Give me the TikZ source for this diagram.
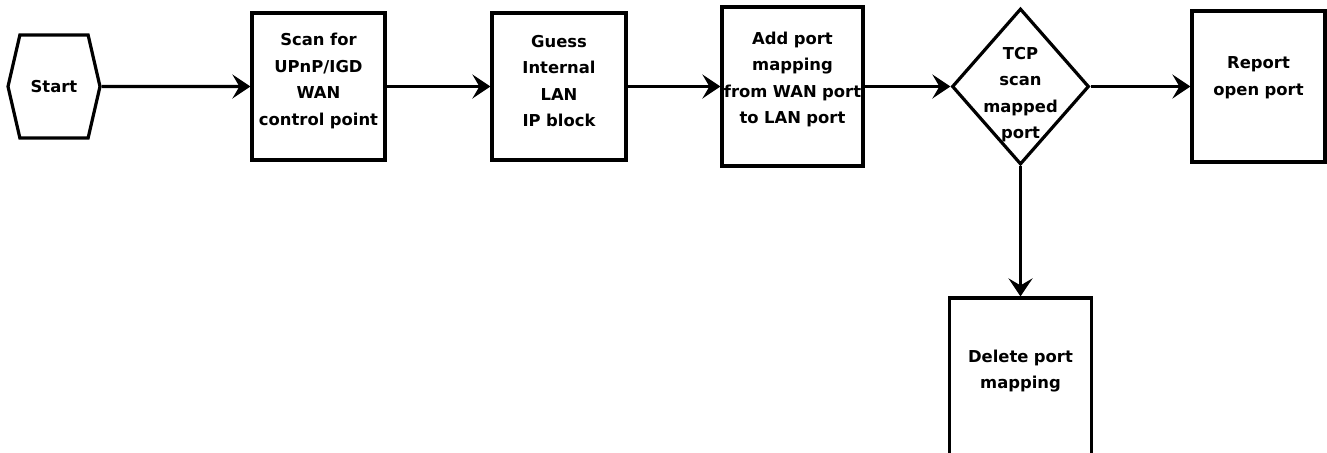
\documentclass[tikz,border=0pt]{standalone}
\usepackage{fontspec}
\setmainfont{DejaVu Sans}
\usetikzlibrary{positioning,shapes.geometric,shapes.symbols,arrows.meta}

\tikzset{
  stepbox/.style={draw, rectangle, line width=1.6pt, inner xsep=0pt, inner ysep=0pt,
    text width=64pt, align=center, minimum width=66.5pt, minimum height=73.5pt,
    execute at end node={\par\vskip #1\hrule height 0pt}},
  stepbox/.default=5.5pt,
  startbox/.style={draw, signal, signal to=west and east, signal pointer angle=154,
    line width=1.6pt, inner sep=0pt, minimum width=46pt, minimum height=51.5pt},
  testbox/.style={draw, diamond, line width=1.6pt, inner sep=0pt,
    minimum width=68.5pt, minimum height=78pt},
  flow/.style={line width=1.6pt, -{Stealth[length=9pt,width=12pt,inset=3.5pt]}}
}

\begin{document}
\begin{tikzpicture}[node distance=120pt,on grid,font=\fontsize{8.2}{13.25}\selectfont\bfseries]
   \useasboundingbox (-27pt,43.25pt) rectangle (636.5pt,-182.75pt);
   \clip (-27pt,43.25pt) rectangle (636.5pt,-182.75pt);

   \node[startbox] (start) {Start};
   \node[stepbox] (scan) [right=132.25pt of start] {Scan for\\UPnP/IGD\\WAN\\control point};
   \node[stepbox, minimum width=67pt] (guess) [right=120.25pt of scan] {Guess\\Internal\\LAN\\IP block};
   \node[stepbox=7pt, text width=70pt, minimum width=70.5pt, minimum height=79.5pt] (map) [right=116.75pt of guess] {Add port\\mapping\\from WAN port\\to LAN port};
   \node[testbox, label={[align=center,yshift=-4pt]center:{TCP\\scan\\mapped\\port}}] (tcp) [right=114pt of map] {};
   \node[stepbox=9pt, minimum height=75.5pt] (report) [right=119pt of tcp] {Report\\open port};
   \node[stepbox=9pt, text width=69pt, minimum width=71pt, minimum height=82pt] (delete) [below=146.75pt of tcp] {Delete port\\mapping};

    \path[flow]
    (start) edge (scan)
    (scan)  edge (guess)
    (guess) edge (map)
    (map)   edge (tcp)
    (tcp)   edge (report)
            edge (delete);
\end{tikzpicture}
\end{document}
